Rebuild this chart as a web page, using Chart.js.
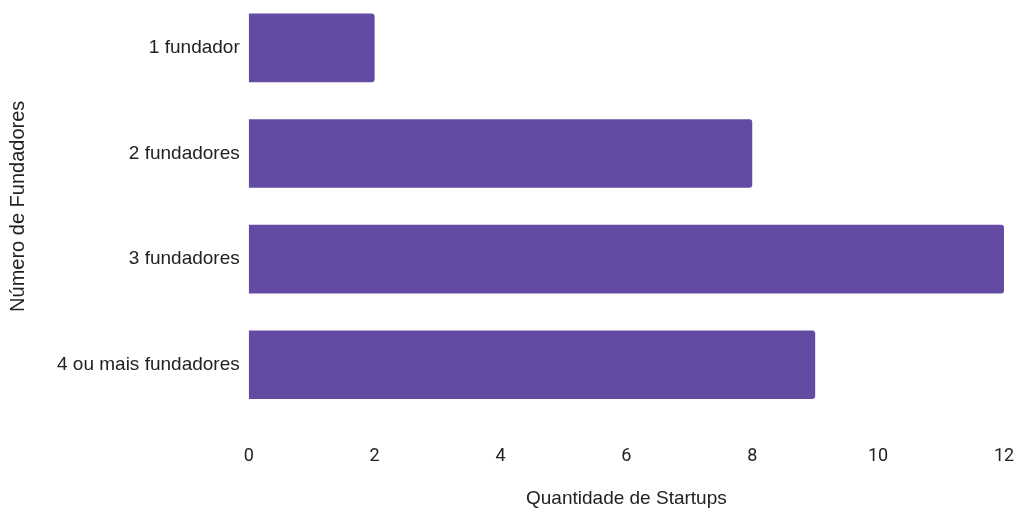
<!DOCTYPE html>
<html>
<head>
<meta charset="utf-8">
<script src="https://cdn.jsdelivr.net/npm/chart.js@4.4.0/dist/chart.umd.min.js"></script>
<style>
  html, body { margin: 0; padding: 0; background: #fff; overflow: hidden; }
  /* canvas a little taller than the window, pulled up so the first bar sits near the top edge */
  .chart-container { width: 1017px; height: 515px; margin-top: -5px; }
</style>
</head>
<body>
<div class="chart-container"><canvas id="foundersChart"></canvas></div>
<script>
const categories = ['1 fundador', '2 fundadores', '3 fundadores', '4 ou mais fundadores'];
const startupCounts = [2, 8, 12, 9];
const xTicks = [0, 2, 4, 6, 8, 10, 12];

// drop the edge padding Chart.js reserves for tick labels
const noEdgePadding = axis => {
    axis.paddingTop = 0;
    axis.paddingBottom = 0;
    axis.paddingLeft = 0;
    axis.paddingRight = 0;
};

const ctx = document.getElementById('foundersChart').getContext('2d');
new Chart(ctx, {
    type: 'bar',
    data: {
        labels: categories,
        datasets: [{
            label: 'Startups',
            data: startupCounts,
            backgroundColor: '#634ba3',
            borderRadius: 3,
            borderSkipped: 'start',
            barPercentage: 0.65,
            categoryPercentage: 1
        }]
    },
    options: {
        indexAxis: 'y',
        responsive: true,
        maintainAspectRatio: false,
        animation: false,
        layout: { padding: { top: 0, right: 13, bottom: 0, left: 6 } },
        plugins: { legend: { display: false }, tooltip: { enabled: false } },
        scales: {
            x: {
                min: 0,
                max: 12,
                afterBuildTicks: axis => { axis.ticks = xTicks.map(v => ({ value: v })); },
                afterFit: noEdgePadding,
                grid: { display: false, drawTicks: false },
                border: { display: false },
                ticks: { color: '#222', font: { family: 'Roboto', size: 18 }, padding: 28 },
                title: {
                    display: true,
                    text: 'Quantidade de Startups',
                    color: '#222',
                    font: { family: 'Liberation Sans', size: 19 },
                    padding: { top: -8, bottom: 0 }
                }
            },
            y: {
                afterFit: noEdgePadding,
                grid: { display: false, drawTicks: false },
                border: { display: false },
                ticks: { color: '#222', font: { family: 'Liberation Sans', size: 19 }, padding: 9 },
                title: {
                    display: true,
                    text: 'Número de Fundadores',
                    color: '#222',
                    font: { family: 'Liberation Sans', size: 20 },
                    padding: { top: 0, bottom: 18 }
                }
            }
        }
    }
});
</script>
</body>
</html>
